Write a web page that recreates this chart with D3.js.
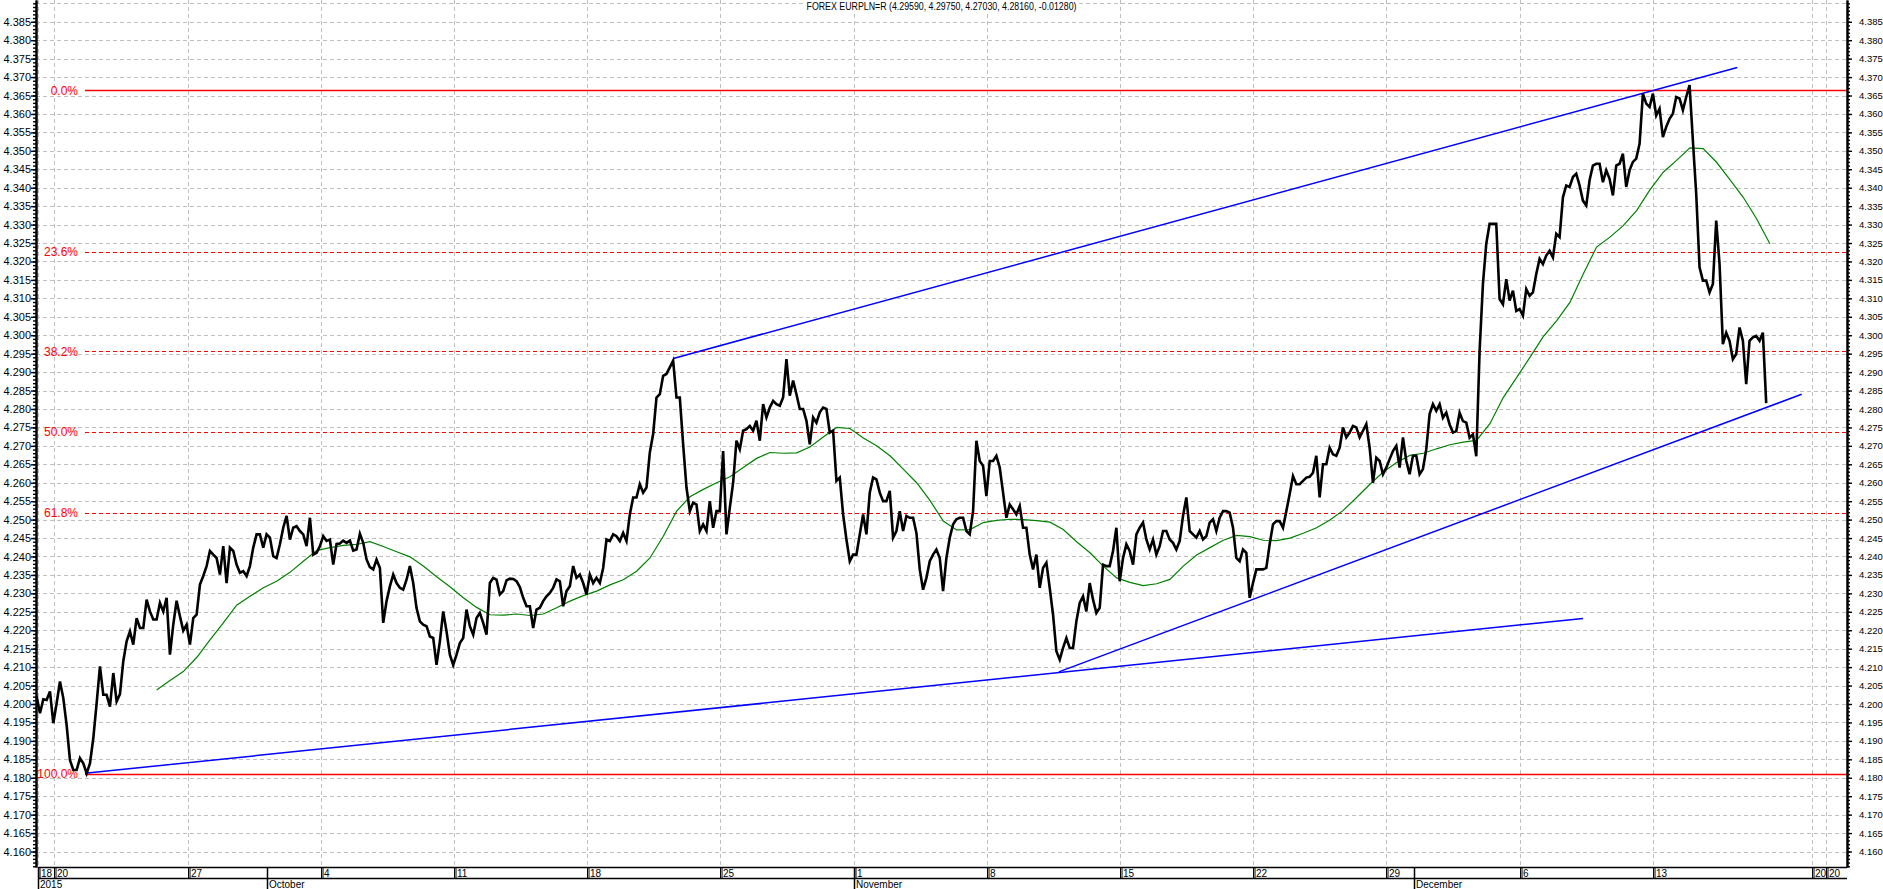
<!DOCTYPE html>
<html>
<head>
<meta charset="utf-8">
<script src="https://cdn.jsdelivr.net/npm/d3@7"></script>
<style>
  body { margin: 0; background: #fff; }
  svg { display: block; font-family: "Liberation Sans", Arial, sans-serif; }
</style>
</head>
<body>
<div id="chart"></div>
<script>
//title of the chart
var title = "FOREX EURPLN=R (4.29590, 4.29750, 4.27030, 4.28160, -0.01280)";

//close prices, one every ~3 hours; x is trading days from Sun 20 Sep 2015
var closeStart = -0.67;
var closeStep = 0.1251;
var closes = [
  4.2020,4.1975,4.2013,4.2011,4.2034,4.1948,4.2002,4.2061,4.2016,4.1943,
  4.1848,4.1821,4.1821,4.1853,4.1839,4.1812,4.1839,4.1907,4.2002,4.2102,
  4.2025,4.2025,4.1993,4.2084,4.2007,4.2027,4.2116,4.2170,4.2197,4.2161,
  4.2233,4.2206,4.2206,4.2283,4.2251,4.2229,4.2229,4.2274,4.2251,4.2288,
  4.2134,4.2215,4.2280,4.2238,4.2199,4.2215,4.2161,4.2233,4.2242,4.2324,
  4.2347,4.2374,4.2415,4.2405,4.2396,4.2351,4.2428,4.2328,4.2424,4.2415,
  4.2378,4.2356,4.2360,4.2347,4.2374,4.2424,4.2460,4.2460,4.2424,4.2460,
  4.2451,4.2401,4.2396,4.2433,4.2478,4.2510,4.2446,4.2478,4.2482,4.2469,
  4.2460,4.2428,4.2505,4.2405,4.2410,4.2428,4.2455,4.2442,4.2446,4.2378,
  4.2434,4.2435,4.2443,4.2437,4.2443,4.2416,4.2419,4.2462,4.2437,4.2392,
  4.2371,4.2365,4.2392,4.2369,4.2220,4.2279,4.2319,4.2351,4.2328,4.2315,
  4.2310,4.2337,4.2374,4.2328,4.2260,4.2224,4.2215,4.2211,4.2183,4.2179,
  4.2106,4.2170,4.2251,4.2197,4.2134,4.2106,4.2134,4.2165,4.2179,4.2256,
  4.2211,4.2188,4.2233,4.2247,4.2220,4.2188,4.2328,4.2342,4.2337,4.2297,
  4.2306,4.2335,4.2340,4.2339,4.2333,4.2317,4.2288,4.2265,4.2265,4.2206,
  4.2256,4.2261,4.2279,4.2292,4.2301,4.2315,4.2338,4.2333,4.2265,4.2306,
  4.2319,4.2374,4.2342,4.2351,4.2328,4.2297,4.2351,4.2328,4.2342,4.2328,
  4.2369,4.2446,4.2442,4.2460,4.2455,4.2442,4.2464,4.2442,4.2514,4.2560,
  4.2560,4.2596,4.2573,4.2587,4.2682,4.2732,4.2831,4.2840,4.2890,4.2895,
  4.2913,4.2931,4.2831,4.2831,4.2704,4.2587,4.2523,4.2546,4.2541,4.2469,
  4.2487,4.2469,4.2550,4.2478,4.2523,4.2523,4.2686,4.2460,4.2532,4.2600,
  4.2714,4.2691,4.2741,4.2745,4.2754,4.2741,4.2768,4.2714,4.2813,4.2777,
  4.2804,4.2822,4.2813,4.2809,4.2831,4.2935,4.2836,4.2877,4.2840,4.2800,
  4.2800,4.2768,4.2704,4.2777,4.2763,4.2791,4.2804,4.2800,4.2736,4.2741,
  4.2605,4.2614,4.2514,4.2446,4.2387,4.2405,4.2405,4.2460,4.2514,4.2460,
  4.2573,4.2614,4.2609,4.2573,4.2550,4.2550,4.2578,4.2451,4.2469,4.2523,
  4.2469,4.2510,4.2505,4.2505,4.2464,4.2365,4.2310,4.2342,4.2387,4.2405,
  4.2419,4.2396,4.2306,4.2396,4.2451,4.2487,4.2501,4.2505,4.2505,4.2469,
  4.2460,4.2523,4.2714,4.2659,4.2646,4.2564,4.2659,4.2659,4.2673,4.2641,
  4.2573,4.2505,4.2541,4.2528,4.2514,4.2537,4.2478,4.2478,4.2405,4.2365,
  4.2405,4.2315,4.2369,4.2383,4.2315,4.2242,4.2143,4.2120,4.2152,4.2179,
  4.2152,4.2152,4.2224,4.2274,4.2292,4.2251,4.2328,4.2283,4.2247,4.2261,
  4.2378,4.2374,4.2374,4.2415,4.2478,4.2333,4.2396,4.2433,4.2415,4.2378,
  4.2460,4.2478,4.2492,4.2446,4.2419,4.2446,4.2405,4.2428,4.2469,4.2469,
  4.2446,4.2437,4.2419,4.2442,4.2510,4.2560,4.2469,4.2460,4.2451,4.2469,
  4.2446,4.2455,4.2492,4.2501,4.2469,4.2505,4.2523,4.2523,4.2519,4.2478,
  4.2396,4.2387,4.2419,4.2410,4.2288,4.2328,4.2365,4.2365,4.2365,4.2369,
  4.2433,4.2487,4.2496,4.2496,4.2478,4.2523,4.2569,4.2618,4.2596,4.2596,
  4.2605,4.2614,4.2616,4.2627,4.2673,4.2560,4.2650,4.2650,4.2695,4.2677,
  4.2673,4.2695,4.2750,4.2723,4.2736,4.2754,4.2750,4.2723,4.2741,4.2759,
  4.2695,4.2600,4.2668,4.2659,4.2623,4.2641,4.2664,4.2686,4.2700,4.2641,
  4.2723,4.2659,4.2623,4.2673,4.2673,4.2623,4.2637,4.2691,4.2786,
  4.2813,4.2795,4.2813,4.2776,4.2790,4.2758,4.2736,4.2740,4.2790,4.2767,
  4.2763,4.2722,4.2731,4.2672,4.2958,4.3139,4.3248,4.3302,4.3302,4.3302,
  4.3098,4.3084,4.3152,4.3094,4.3121,4.3066,4.3071,4.3053,4.3125,4.3107,
  4.3116,4.3166,4.3207,4.3193,4.3216,4.3229,4.3211,4.3275,4.3266,4.3374,
  4.3406,4.3402,4.3429,4.3438,4.3406,4.3365,4.3352,4.3420,4.3460,4.3465,
  4.3465,4.3415,4.3447,4.3424,4.3379,4.3460,4.3465,4.3492,4.3402,4.3447,
  4.3470,4.3479,4.3519,4.3655,4.3628,4.3619,4.3655,4.3596,4.3614,4.3537,
  4.3565,4.3587,4.3601,4.3646,4.3642,4.3610,4.3646,4.3678,4.3528,4.3383,
  4.3184,4.3148,4.3148,4.3116,4.3139,4.3311,4.3193,4.2976,4.3007,4.2985,
  4.2935,4.2949,4.3021,4.2985,4.2867,4.2985,4.2994,4.2998,4.2985,4.3007,
  4.2816
];

//moving average (green), one value every half day
var maStart = 3.835;
var maStep = 0.5005;
var maValues = [
  4.2038,4.2064,4.2088,4.2126,4.2174,4.2220,4.2268,4.2292,4.2315,4.2333,
  4.2357,4.2387,4.2416,4.2424,4.2430,4.2433,4.2440,4.2427,4.2413,4.2399,
  4.2374,4.2345,4.2318,4.2288,4.2262,4.2242,
  4.2241,4.2244,4.2240,4.2244,4.2261,4.2279,4.2294,4.2306,4.2323,4.2337,
  4.2360,4.2396,4.2455,4.2523,4.2562,4.2582,4.2600,4.2616,4.2641,4.2666,
  4.2682,4.2680,4.2681,4.2697,4.2724,4.2750,4.2747,4.2721,4.2700,4.2673,
  4.2637,4.2600,4.2552,4.2496,4.2472,
  4.2473,4.2492,4.2498,4.2501,4.2500,4.2497,4.2493,4.2473,4.2440,4.2410,
  4.2374,4.2342,4.2330,4.2321,4.2326,4.2338,4.2374,4.2404,4.2424,4.2444,
  4.2457,4.2454,4.2444,4.2443,4.2450,4.2463,4.2478,4.2499,4.2525,4.2560,
  4.2596,4.2629,4.2655,4.2674,4.2680,
  4.2692,4.2703,4.2710,4.2715,4.2760,4.2831,4.2885,4.2940,4.2996,4.3039,
  4.3089,4.3166,4.3239,4.3266,4.3297,4.3338,4.3394,4.3442,4.3474,4.3508,
  4.3506,4.3469,4.3422,4.3374,4.3316,4.3248
];

//fibonacci retracement levels, drawn from the 22 Sep low
var fibLabels = ["0.0%", "23.6%", "38.2%", "50.0%", "61.8%", "100.0%"];
var fibValues = [4.3664, 4.3226, 4.2956, 4.2737, 4.2518, 4.1810];
var fibStartDay = 1.145;

//trend lines: start day/value, end day/value
var trendStartDays = [1.145, 37.70, 23.23];
var trendStartValues = [4.1812, 4.2087, 4.2937];
var trendEndDays = [57.38, 65.59, 63.17];
var trendEndValues = [4.2232, 4.2840, 4.3726];

//date axis
var dayTicks = [-0.61, 0, 5, 10, 15, 20, 25, 30, 35, 40, 45, 50, 55, 60, 65.96, 66.52];
var dayLabels = ["18", "20", "27", "4", "11", "18", "25", "1", "8", "15", "22", "29", "6", "13", "20", "20"];
var monthTicks = [-0.61, 7.98, 30, 51.03];
var monthLabels = ["2015", "October", "November", "December"];

//price axis
var yDomain = [4.1558, 4.3909];
var dayDomain = [-0.694, 67.29];

var W = 1883, H = 889;
var margin = {top: 0, right: 36, bottom: 22, left: 36};
var plotW = W - margin.left - margin.right;
var plotH = H - margin.top - margin.bottom;

var svg = d3.select("#chart").append("svg")
            .attr("width", W)
            .attr("height", H);

svg.append("rect").attr("width", W).attr("height", H).attr("fill", "#fff");

var g = svg.append("g")
           .attr("transform", "translate(" + margin.left + "," + margin.top + ")");

var x = d3.scaleLinear().domain(dayDomain).range([0, plotW]);
var y = d3.scaleLinear().domain(yDomain).range([plotH, 0]);

var yMajor = d3.range(4160, 4391, 5).map(d => d / 1000);
var yLabelled = yMajor.filter(d => d <= 4.3851);
var yMinor = d3.range(4156, 4391, 1).map(d => d / 1000);

function px(v) { return Math.round(v) + 0.5; }

//grid
g.selectAll(".hgrid")
  .data(yMajor)
  .enter().append("line")
  .attr("class", "hgrid")
  .attr("x1", 0).attr("x2", plotW)
  .attr("y1", d => px(y(d))).attr("y2", d => px(y(d)))
  .attr("stroke", "#c0c0c0")
  .attr("stroke-dasharray", "4,3");

g.selectAll(".vgrid")
  .data(dayTicks)
  .enter().append("line")
  .attr("class", "vgrid")
  .attr("x1", d => px(x(d))).attr("x2", d => px(x(d)))
  .attr("y1", 0).attr("y2", plotH)
  .attr("stroke", "#c0c0c0")
  .attr("stroke-dasharray", "4,3");

//fibonacci lines + labels
var fib = g.selectAll(".fib")
  .data(fibValues)
  .enter().append("g")
  .attr("class", "fib");

fib.append("line")
  .attr("x1", x(fibStartDay)).attr("x2", plotW)
  .attr("y1", d => px(y(d))).attr("y2", d => px(y(d)))
  .attr("stroke", "#ff0000")
  .attr("stroke-width", (d, i) => (i == 0 || i == fibValues.length - 1) ? 1.6 : 1.2)
  .attr("stroke-dasharray", (d, i) => (i == 0 || i == fibValues.length - 1) ? null : "4,3");

fib.append("text")
  .attr("x", x(fibStartDay) - 7)
  .attr("y", d => y(d))
  .attr("dy", "0.35em")
  .attr("text-anchor", "end")
  .attr("fill", "#ff0000")
  .style("font-size", "12px")
  .text((d, i) => fibLabels[i]);

//trend lines
g.selectAll(".trend")
  .data(trendStartDays)
  .enter().append("line")
  .attr("class", "trend")
  .attr("x1", d => x(d))
  .attr("y1", (d, i) => y(trendStartValues[i]))
  .attr("x2", (d, i) => x(trendEndDays[i]))
  .attr("y2", (d, i) => y(trendEndValues[i]))
  .attr("stroke", "#0000ff")
  .attr("stroke-width", 1.5);

//moving average
var maLine = d3.line()
  .x((d, i) => x(maStart + i * maStep))
  .y(d => y(d));

g.append("path")
  .datum(maValues)
  .attr("d", maLine)
  .attr("fill", "none")
  .attr("stroke", "#008000")
  .attr("stroke-width", 1.2);

//price
var priceLine = d3.line()
  .x((d, i) => x(closeStart + i * closeStep))
  .y(d => y(d));

g.append("path")
  .datum(closes)
  .attr("d", priceLine)
  .attr("fill", "none")
  .attr("stroke", "#000")
  .attr("stroke-width", 2.6)
  .attr("stroke-linejoin", "miter");

//axes
var fmt = d3.format(".3f");

function styleAxis(sel) {
  sel.select(".domain").attr("stroke", "#000").attr("stroke-width", 2);
  sel.selectAll(".tick line").attr("stroke", "#000").attr("stroke-width", 1.4);
  sel.selectAll("text").attr("fill", "#000").style("font-size", "11px");
}

g.append("g")
  .call(d3.axisLeft(y).tickValues(yMinor).tickSize(3).tickFormat("").tickSizeOuter(0))
  .call(styleAxis);
g.append("g")
  .call(d3.axisLeft(y).tickValues(yLabelled).tickSize(5).tickPadding(0).tickFormat(fmt).tickSizeOuter(0))
  .call(styleAxis);

g.append("g")
  .attr("transform", "translate(" + plotW + ",0)")
  .call(d3.axisRight(y).tickValues(yMinor).tickSize(3).tickFormat("").tickSizeOuter(0))
  .call(styleAxis);
g.append("g")
  .attr("transform", "translate(" + plotW + ",0)")
  .call(d3.axisRight(y).tickValues(yLabelled).tickSize(5).tickPadding(7).tickFormat(fmt).tickSizeOuter(0))
  .call(styleAxis)
  .selectAll("text").style("font-size", "9.5px");

//title with white background
var tg = svg.append("g");
var tbg = tg.append("rect").attr("fill", "#fff");
var t = tg.append("text")
  .attr("x", margin.left + plotW / 2)
  .attr("y", 10)
  .attr("text-anchor", "middle")
  .style("font-size", "10px")
  .attr("textLength", 270)
  .attr("lengthAdjust", "spacingAndGlyphs")
  .text(title);
var tb = t.node().getBBox();
tbg.attr("x", tb.x - 2).attr("y", 0)
   .attr("width", tb.width + 4).attr("height", 13);

//date band below the plot
var band = svg.append("g")
  .attr("transform", "translate(" + margin.left + "," + plotH + ")");
var x0 = x(dayTicks[0]);

band.append("rect")
  .attr("x", x0).attr("y", 0)
  .attr("width", plotW - x0).attr("height", margin.bottom)
  .attr("fill", "#fff");

[0, 11].forEach(function(r) {
  band.append("line")
    .attr("x1", x0).attr("x2", plotW)
    .attr("y1", r + 0.5).attr("y2", r + 0.5)
    .attr("stroke", "#000").attr("stroke-width", 1.5);
});

var dt = band.selectAll(".dtick")
  .data(dayTicks)
  .enter().append("g")
  .attr("class", "dtick")
  .attr("transform", d => "translate(" + Math.round(x(d)) + ",0)");

dt.append("line")
  .attr("x1", 0.5).attr("x2", 0.5).attr("y1", 0).attr("y2", 11)
  .attr("stroke", "#000");
dt.append("line")
  .attr("x1", 2).attr("x2", 2).attr("y1", 0).attr("y2", 11)
  .attr("stroke", "#000");
dt.append("text")
  .attr("x", 3).attr("y", 9.5)
  .style("font-size", "10px")
  .attr("fill", "#000")
  .text((d, i) => dayLabels[i]);

var mt = band.selectAll(".mtick")
  .data(monthTicks)
  .enter().append("g")
  .attr("class", "mtick")
  .attr("transform", d => "translate(" + Math.round(x(d)) + ",0)");

mt.append("line")
  .attr("x1", 0.5).attr("x2", 0.5).attr("y1", 0).attr("y2", margin.bottom)
  .attr("stroke", "#000").attr("stroke-width", 1.5);
mt.append("text")
  .attr("x", 2).attr("y", 20.5)
  .style("font-size", "10px")
  .attr("fill", "#000")
  .text((d, i) => monthLabels[i]);
</script>
</body>
</html>
